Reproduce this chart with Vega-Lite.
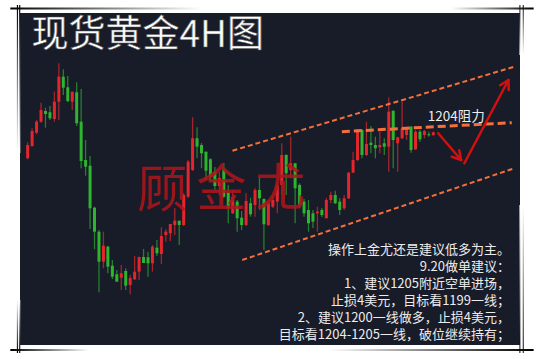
{
  "$schema": "https://vega.github.io/schema/vega-lite/v6.json",
  "width": 500,
  "height": 332,
  "autosize": {"type": "none"},
  "padding": {"left": 20, "top": 13, "right": 19, "bottom": 14},
  "background": "#ffffff",
  "config": {"view": {"fill": "#181b28", "stroke": null}},
  "datasets": {
    "candles": [
      {"t":0,"open":1196.18,"high":1200.18,"low":1195.93,"close":1199.5},
      {"t":1,"open":1199.25,"high":1203.68,"low":1199.08,"close":1203.0},
      {"t":2,"open":1202.58,"high":1205.75,"low":1202.18,"close":1205.33},
      {"t":3,"open":1205.33,"high":1210.08,"low":1205.08,"close":1208.25},
      {"t":4,"open":1208.0,"high":1208.83,"low":1203.83,"close":1207.25},
      {"t":5,"open":1207.68,"high":1209.25,"low":1205.75,"close":1206.18},
      {"t":6,"open":1206.0,"high":1212.83,"low":1205.33,"close":1210.33},
      {"t":7,"open":1210.33,"high":1219.93,"low":1205.68,"close":1216.58},
      {"t":8,"open":1216.58,"high":1218.43,"low":1212.0,"close":1213.83},
      {"t":9,"open":1213.93,"high":1216.75,"low":1210.18,"close":1210.5},
      {"t":10,"open":1210.33,"high":1212.83,"low":1208.25,"close":1212.83},
      {"t":11,"open":1212.68,"high":1215.18,"low":1204.25,"close":1204.93},
      {"t":12,"open":1205.33,"high":1213.5,"low":1193.68,"close":1195.5},
      {"t":13,"open":1195.75,"high":1200.75,"low":1191.83,"close":1194.08},
      {"t":14,"open":1194.33,"high":1196.75,"low":1178.5,"close":1183.68},
      {"t":15,"open":1183.83,"high":1184.08,"low":1173.43,"close":1177.83},
      {"t":16,"open":1177.83,"high":1178.25,"low":1162.68,"close":1170.33},
      {"t":17,"open":1170.33,"high":1177.83,"low":1168.68,"close":1174.33},
      {"t":18,"open":1174.08,"high":1174.33,"low":1167.43,"close":1169.08},
      {"t":19,"open":1169.33,"high":1170.75,"low":1166.0,"close":1166.58},
      {"t":20,"open":1167.18,"high":1168.25,"low":1165.33,"close":1165.33},
      {"t":21,"open":1166.33,"high":1169.5,"low":1163.25,"close":1167.43},
      {"t":22,"open":1168.0,"high":1168.68,"low":1163.25,"close":1164.33},
      {"t":23,"open":1164.5,"high":1167.0,"low":1162.18,"close":1166.25},
      {"t":24,"open":1165.93,"high":1171.75,"low":1165.75,"close":1167.83},
      {"t":25,"open":1167.83,"high":1171.58,"low":1165.75,"close":1171.5},
      {"t":26,"open":1171.5,"high":1173.5,"low":1170.0,"close":1170.0},
      {"t":27,"open":1171.43,"high":1172.83,"low":1166.58,"close":1169.93},
      {"t":28,"open":1169.93,"high":1174.5,"low":1167.83,"close":1174.08},
      {"t":29,"open":1173.83,"high":1175.75,"low":1171.75,"close":1172.43},
      {"t":30,"open":1172.25,"high":1178.93,"low":1169.75,"close":1176.75},
      {"t":31,"open":1177.0,"high":1178.43,"low":1175.33,"close":1177.83},
      {"t":32,"open":1177.43,"high":1179.75,"low":1175.5,"close":1179.75},
      {"t":33,"open":1179.5,"high":1183.75,"low":1177.0,"close":1180.58},
      {"t":34,"open":1180.58,"high":1180.58,"low":1174.5,"close":1179.5},
      {"t":35,"open":1179.5,"high":1187.5,"low":1179.25,"close":1187.0},
      {"t":36,"open":1186.58,"high":1195.75,"low":1186.25,"close":1195.33},
      {"t":37,"open":1193.25,"high":1206.43,"low":1193.0,"close":1201.18},
      {"t":38,"open":1201.18,"high":1203.93,"low":1196.18,"close":1199.08},
      {"t":39,"open":1199.5,"high":1200.0,"low":1193.68,"close":1197.43},
      {"t":40,"open":1197.83,"high":1197.83,"low":1190.75,"close":1193.08},
      {"t":41,"open":1195.93,"high":1196.18,"low":1190.33,"close":1191.58},
      {"t":42,"open":1192.75,"high":1194.0,"low":1188.25,"close":1189.25},
      {"t":43,"open":1189.25,"high":1192.75,"low":1187.0,"close":1191.25},
      {"t":44,"open":1193.25,"high":1195.0,"low":1186.25,"close":1186.58},
      {"t":45,"open":1187.5,"high":1189.5,"low":1179.93,"close":1183.75},
      {"t":46,"open":1182.43,"high":1188.25,"low":1182.25,"close":1186.58},
      {"t":47,"open":1185.33,"high":1185.75,"low":1177.83,"close":1181.18},
      {"t":48,"open":1181.33,"high":1183.0,"low":1178.25,"close":1179.5},
      {"t":49,"open":1179.5,"high":1187.43,"low":1179.25,"close":1185.5},
      {"t":50,"open":1184.93,"high":1186.33,"low":1181.58,"close":1182.18},
      {"t":51,"open":1184.5,"high":1188.68,"low":1181.58,"close":1188.25},
      {"t":52,"open":1188.25,"high":1191.58,"low":1183.25,"close":1186.18},
      {"t":53,"open":1186.0,"high":1186.18,"low":1173.25,"close":1179.68},
      {"t":54,"open":1179.5,"high":1185.25,"low":1179.25,"close":1184.93},
      {"t":55,"open":1184.08,"high":1186.5,"low":1183.75,"close":1185.75},
      {"t":56,"open":1185.33,"high":1189.5,"low":1182.43,"close":1189.33},
      {"t":57,"open":1189.5,"high":1199.93,"low":1187.0,"close":1197.0},
      {"t":58,"open":1197.0,"high":1197.18,"low":1187.0,"close":1192.43},
      {"t":59,"open":1193.25,"high":1201.58,"low":1191.18,"close":1194.93},
      {"t":60,"open":1194.93,"high":1194.93,"low":1179.93,"close":1188.68},
      {"t":61,"open":1189.5,"high":1189.93,"low":1183.68,"close":1184.5},
      {"t":62,"open":1185.33,"high":1186.0,"low":1181.58,"close":1182.43},
      {"t":63,"open":1183.25,"high":1185.75,"low":1177.83,"close":1179.93},
      {"t":64,"open":1182.43,"high":1183.25,"low":1178.75,"close":1180.33},
      {"t":65,"open":1182.43,"high":1184.08,"low":1177.83,"close":1182.83},
      {"t":66,"open":1183.25,"high":1183.75,"low":1181.5,"close":1182.0},
      {"t":67,"open":1181.18,"high":1186.25,"low":1181.18,"close":1185.75},
      {"t":68,"open":1185.75,"high":1187.83,"low":1184.93,"close":1187.0},
      {"t":69,"open":1187.0,"high":1188.08,"low":1184.75,"close":1184.93},
      {"t":70,"open":1185.33,"high":1186.18,"low":1182.0,"close":1183.25},
      {"t":71,"open":1183.68,"high":1187.0,"low":1183.25,"close":1186.18},
      {"t":72,"open":1186.18,"high":1192.75,"low":1186.0,"close":1192.58},
      {"t":73,"open":1192.58,"high":1197.83,"low":1192.5,"close":1195.75},
      {"t":74,"open":1195.75,"high":1203.5,"low":1195.5,"close":1203.25},
      {"t":75,"open":1203.25,"high":1203.43,"low":1196.18,"close":1197.0},
      {"t":76,"open":1197.0,"high":1205.33,"low":1196.75,"close":1199.75},
      {"t":77,"open":1200.08,"high":1204.25,"low":1197.43,"close":1199.5},
      {"t":78,"open":1199.5,"high":1201.58,"low":1196.18,"close":1198.68},
      {"t":79,"open":1198.93,"high":1202.83,"low":1197.43,"close":1199.5},
      {"t":80,"open":1199.93,"high":1201.18,"low":1197.0,"close":1199.08},
      {"t":81,"open":1199.08,"high":1211.43,"low":1192.83,"close":1207.83},
      {"t":82,"open":1208.08,"high":1208.08,"low":1193.68,"close":1200.75},
      {"t":83,"open":1199.93,"high":1201.58,"low":1192.83,"close":1201.43},
      {"t":84,"open":1201.18,"high":1210.33,"low":1201.0,"close":1203.68},
      {"t":85,"open":1202.0,"high":1204.0,"low":1200.75,"close":1203.68},
      {"t":86,"open":1204.08,"high":1204.25,"low":1197.58,"close":1198.25},
      {"t":87,"open":1198.43,"high":1203.25,"low":1198.25,"close":1202.83},
      {"t":88,"open":1202.83,"high":1203.25,"low":1200.33,"close":1200.93},
      {"t":89,"open":1202.0,"high":1203.25,"low":1201.18,"close":1203.0},
      {"t":90,"open":1202.18,"high":1202.83,"low":1201.58,"close":1201.93},
      {"t":91,"open":1202.0,"high":1202.83,"low":1201.75,"close":1202.68}
    ],
    "channel": [
      {"name":"upper","t":45.94,"price":1198.08,"t2":109.17,"price2":1219.08},
      {"name":"lower","t":48.14,"price":1170.75,"t2":109.17,"price2":1193.68}
    ],
    "resistance": [
      {"name":"1204","t":70.48,"price":1202.83,"t2":108.6,"price2":1205.08}
    ],
    "arrows": [
      {"t":92.11,"price":1202.43,"t2":97.23,"price2":1195.75},
      {"t":96.81,"price":1198.2,"t2":97.23,"price2":1195.75},
      {"t":95.14,"price":1196.55,"t2":97.23,"price2":1195.75},
      {"t":97.96,"price":1194.93,"t2":107.85,"price2":1215.75},
      {"t":105.98,"price":1214.45,"t2":107.85,"price2":1215.75},
      {"t":107.91,"price":1213.25,"t2":107.85,"price2":1215.75}
    ],
    "notes": [
      {"label":"操作上金尤还是建议低多为主。","t":108.2,"price":1173.25},
      {"label":"9.20做单建议：","t":108.2,"price":1169.0},
      {"label":"1、建议1205附近空单进场，","t":108.2,"price":1164.75},
      {"label":"止损4美元，目标看1199一线；","t":108.2,"price":1160.5},
      {"label":"2、建议1200一线做多，止损4美元，","t":108.2,"price":1156.25},
      {"label":"目标看1204-1205一线，破位继续持有；","t":108.2,"price":1152.0}
    ],
    "watermark": [
      {"label":"顾","t":30.18,"price":1187.75},
      {"label":"金","t":43.5,"price":1188.0},
      {"label":"尤","t":56.7,"price":1188.25}
    ],
    "decoHL": [
      {"t":-3.89,"t2":38.98,"price":1233.88,"price2":1233.38},
      {"t":-3.89,"t2":13.7,"price":1148.5,"price2":1148.0}
    ],
    "decoHR": [
      {"t":95.03,"t2":113.5,"price":1233.88,"price2":1233.38},
      {"t":67.55,"t2":113.5,"price":1148.5,"price2":1148.0}
    ],
    "decoVT": [
      {"t":-2.42,"t2":-2.15,"price":1234.5,"price2":1197.5},
      {"t":-1.91,"t2":-1.65,"price":1234.5,"price2":1197.5},
      {"t":110.31,"t2":110.53,"price":1234.5,"price2":1222.0},
      {"t":111.06,"t2":111.28,"price":1234.5,"price2":1222.0}
    ],
    "decoVB": [
      {"t":-2.42,"t2":-2.15,"price":1160.75,"price2":1147.5},
      {"t":-1.91,"t2":-1.65,"price":1160.75,"price2":1147.5},
      {"t":110.31,"t2":110.53,"price":1184.5,"price2":1147.5},
      {"t":111.06,"t2":111.28,"price":1184.5,"price2":1147.5}
    ]
  },
  "layer": [
    {
      "data": {"name": "candles"},
      "mark": {"type": "rule", "strokeWidth": 1.3},
      "encoding": {
        "x": {"field": "t", "type": "quantitative", "scale": {"domain": [-0.5935, 109.32], "nice": false, "zero": false}, "axis": null},
        "y": {"field": "low", "type": "quantitative", "scale": {"domain": [1149.5, 1232.5], "nice": false, "zero": false}, "axis": null},
        "y2": {"field": "high"},
        "color": {"condition": {"test": "datum.close > datum.open", "value": "#a0262b"}, "value": "#267f2e"}
      }
    },
    {
      "data": {"name": "candles"},
      "mark": {"type": "bar", "size": 3},
      "encoding": {
        "x": {"field": "t", "type": "quantitative", "scale": {"domain": [-0.5935, 109.32], "nice": false, "zero": false}, "axis": null},
        "y": {"field": "open", "type": "quantitative", "scale": {"domain": [1149.5, 1232.5], "nice": false, "zero": false}, "axis": null},
        "y2": {"field": "close"},
        "color": {"condition": {"test": "datum.close > datum.open", "value": "#e4262c"}, "value": "#2db52f"}
      }
    },
    {
      "data": {"name": "channel"},
      "mark": {"type": "rule", "stroke": "#f4703a", "strokeWidth": 2, "strokeDash": [5, 3], "clip": false},
      "encoding": {
        "x": {"field": "t", "type": "quantitative", "scale": {"domain": [-0.5935, 109.32], "nice": false, "zero": false}, "axis": null},
        "y": {"field": "price", "type": "quantitative", "scale": {"domain": [1149.5, 1232.5], "nice": false, "zero": false}, "axis": null},
        "x2": {"field": "t2"},
        "y2": {"field": "price2"}
      }
    },
    {
      "data": {"name": "resistance"},
      "mark": {"type": "rule", "stroke": "#f4703a", "strokeWidth": 3, "strokeDash": [8, 4], "clip": false},
      "encoding": {
        "x": {"field": "t", "type": "quantitative", "scale": {"domain": [-0.5935, 109.32], "nice": false, "zero": false}, "axis": null},
        "y": {"field": "price", "type": "quantitative", "scale": {"domain": [1149.5, 1232.5], "nice": false, "zero": false}, "axis": null},
        "x2": {"field": "t2"},
        "y2": {"field": "price2"}
      }
    },
    {
      "data": {"name": "arrows"},
      "mark": {"type": "rule", "stroke": "#d2100f", "strokeWidth": 2.5, "strokeCap": "round", "clip": false},
      "encoding": {
        "x": {"field": "t", "type": "quantitative", "scale": {"domain": [-0.5935, 109.32], "nice": false, "zero": false}, "axis": null},
        "y": {"field": "price", "type": "quantitative", "scale": {"domain": [1149.5, 1232.5], "nice": false, "zero": false}, "axis": null},
        "x2": {"field": "t2"},
        "y2": {"field": "price2"}
      }
    },
    {
      "data": {"values": [{"label": "1204阻力", "t": 96.13, "price": 1206.5}]},
      "mark": {"type": "text", "font": "Noto Sans CJK SC", "fontSize": 13.5, "fill": "#ececec", "align": "center", "baseline": "middle"},
      "encoding": {
        "x": {"field": "t", "type": "quantitative", "scale": {"domain": [-0.5935, 109.32], "nice": false, "zero": false}, "axis": null},
        "y": {"field": "price", "type": "quantitative", "scale": {"domain": [1149.5, 1232.5], "nice": false, "zero": false}, "axis": null},
        "text": {"field": "label"}
      }
    },
    {
      "data": {"name": "watermark"},
      "mark": {"type": "text", "font": "Noto Sans CJK SC", "fontSize": 50, "fill": "#b0161c", "opacity": 0.85, "align": "center", "baseline": "middle"},
      "encoding": {
        "x": {"field": "t", "type": "quantitative", "scale": {"domain": [-0.5935, 109.32], "nice": false, "zero": false}, "axis": null},
        "y": {"field": "price", "type": "quantitative", "scale": {"domain": [1149.5, 1232.5], "nice": false, "zero": false}, "axis": null},
        "text": {"field": "label"}
      }
    },
    {
      "data": {"name": "notes"},
      "mark": {"type": "text", "font": "Noto Sans CJK SC", "fontSize": 13, "fill": "#ececec", "align": "right", "baseline": "middle"},
      "encoding": {
        "x": {"field": "t", "type": "quantitative", "scale": {"domain": [-0.5935, 109.32], "nice": false, "zero": false}, "axis": null},
        "y": {"field": "price", "type": "quantitative", "scale": {"domain": [1149.5, 1232.5], "nice": false, "zero": false}, "axis": null},
        "text": {"field": "label"}
      }
    },
    {
      "data": {"values": [{"label": "现货黄金4H图", "t": 0.88, "price": 1226.75}]},
      "mark": {"type": "text", "font": "Noto Sans CJK SC", "fontSize": 37, "fill": "#ffffff", "stroke": "#555555", "strokeWidth": 0.6, "align": "left", "baseline": "middle"},
      "encoding": {
        "x": {"field": "t", "type": "quantitative", "scale": {"domain": [-0.5935, 109.32], "nice": false, "zero": false}, "axis": null},
        "y": {"field": "price", "type": "quantitative", "scale": {"domain": [1149.5, 1232.5], "nice": false, "zero": false}, "axis": null},
        "text": {"field": "label"}
      }
    },
    {
      "data": {"name": "decoHL"},
      "mark": {"type": "rect", "clip": false, "fill": {"gradient": "linear", "x1": 0, "y1": 0, "x2": 1, "y2": 0, "stops": [{"offset": 0, "color": "#000000"}, {"offset": 1, "color": "#ffffff"}]}},
      "encoding": {
        "x": {"field": "t", "type": "quantitative", "scale": {"domain": [-0.5935, 109.32], "nice": false, "zero": false}, "axis": null},
        "x2": {"field": "t2"},
        "y": {"field": "price", "type": "quantitative", "scale": {"domain": [1149.5, 1232.5], "nice": false, "zero": false}, "axis": null},
        "y2": {"field": "price2"}
      }
    },
    {
      "data": {"name": "decoHR"},
      "mark": {"type": "rect", "clip": false, "fill": {"gradient": "linear", "x1": 0, "y1": 0, "x2": 1, "y2": 0, "stops": [{"offset": 0, "color": "#ffffff"}, {"offset": 1, "color": "#000000"}]}},
      "encoding": {
        "x": {"field": "t", "type": "quantitative", "scale": {"domain": [-0.5935, 109.32], "nice": false, "zero": false}, "axis": null},
        "x2": {"field": "t2"},
        "y": {"field": "price", "type": "quantitative", "scale": {"domain": [1149.5, 1232.5], "nice": false, "zero": false}, "axis": null},
        "y2": {"field": "price2"}
      }
    },
    {
      "data": {"name": "decoVT"},
      "mark": {"type": "rect", "clip": false, "fill": {"gradient": "linear", "x1": 0, "y1": 0, "x2": 0, "y2": 1, "stops": [{"offset": 0, "color": "#000000"}, {"offset": 1, "color": "#ffffff"}]}},
      "encoding": {
        "x": {"field": "t", "type": "quantitative", "scale": {"domain": [-0.5935, 109.32], "nice": false, "zero": false}, "axis": null},
        "x2": {"field": "t2"},
        "y": {"field": "price", "type": "quantitative", "scale": {"domain": [1149.5, 1232.5], "nice": false, "zero": false}, "axis": null},
        "y2": {"field": "price2"}
      }
    },
    {
      "data": {"name": "decoVB"},
      "mark": {"type": "rect", "clip": false, "fill": {"gradient": "linear", "x1": 0, "y1": 0, "x2": 0, "y2": 1, "stops": [{"offset": 0, "color": "#ffffff"}, {"offset": 1, "color": "#000000"}]}},
      "encoding": {
        "x": {"field": "t", "type": "quantitative", "scale": {"domain": [-0.5935, 109.32], "nice": false, "zero": false}, "axis": null},
        "x2": {"field": "t2"},
        "y": {"field": "price", "type": "quantitative", "scale": {"domain": [1149.5, 1232.5], "nice": false, "zero": false}, "axis": null},
        "y2": {"field": "price2"}
      }
    }
  ]
}
